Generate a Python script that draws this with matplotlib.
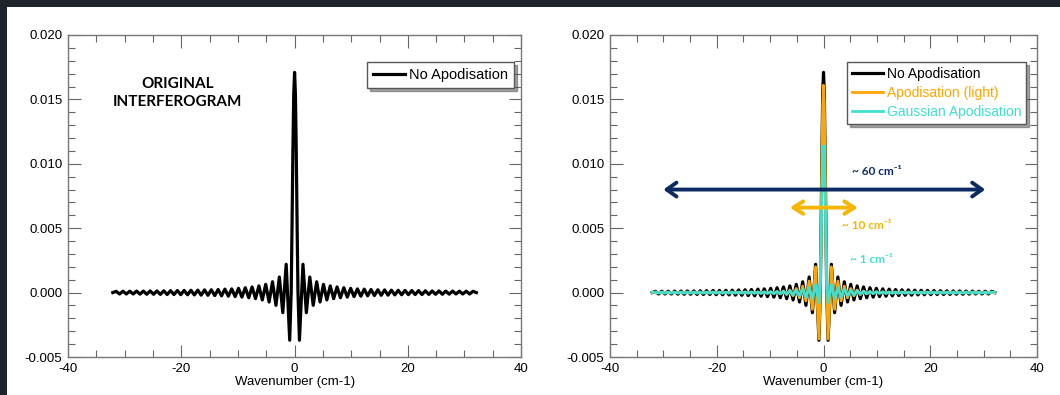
import numpy as np
import matplotlib.pyplot as plt
from matplotlib.patches import Rectangle
from matplotlib.ticker import MultipleLocator, FormatStrFormatter

plt.rcParams['font.family'] = ['Liberation Sans', 'DejaVu Sans']
plt.rcParams['axes.unicode_minus'] = False

# extrema of the interferogram, positive side only (curve is symmetric about 0)
x_core = [0.0, 0.15, 0.3, 0.45, 0.6, 0.86, 1.48, 2.08, 2.69, 3.29]
x_tail = np.round(np.arange(3.9, 31.55, 0.6), 2)
x_end = 32.1

no_apod_core = [0.0171, 0.0154, 0.0109, 0.0051, 0.0, -0.0037, 0.0022, -0.00156, 0.00121, -0.00099]
no_apod_tail = [0.00084, -0.00073, 0.00064, -0.00057, 0.00052, -0.00047, 0.00044, -0.00040,
                0.00038, -0.00035, 0.00033, -0.00031, 0.00029, -0.00028, 0.00027, -0.00025,
                0.00024, -0.00023, 0.00022, -0.00021, 0.00021, -0.00020, 0.00019, -0.00018,
                0.00018, -0.00017, 0.00017, -0.00016, 0.00016, -0.00015, 0.00015, -0.00015,
                0.00014, -0.00014, 0.00013, -0.00013, 0.00013, -0.00013, 0.00012, -0.00012,
                0.00012, -0.00011, 0.00011, -0.00011, 0.00011, -0.00011, 0.00010]

light_core = [0.0161, 0.0146, 0.0104, 0.0049, 0.0, -0.0036, 0.0020, -0.0013, 0.00090, -0.00065]
light_tail = [0.00050, -0.00040, 0.00032, -0.00025, 0.00020, -0.00015, 0.00012, -0.00009,
              0.00007, -0.00005, 0.00004, -0.00003, 0.00002, -0.00002, 0.00001, 0.0,
              0.0, 0.0, 0.0, 0.0, 0.0, 0.0, 0.0, 0.0,
              0.0, 0.0, 0.0, 0.0, 0.0, 0.0, 0.0, 0.0,
              0.0, 0.0, 0.0, 0.0, 0.0, 0.0, 0.0, 0.0,
              0.0, 0.0, 0.0, 0.0, 0.0, 0.0, 0.0]

gauss_core = [0.0114, 0.0104, 0.0078, 0.0043, 0.0010, -0.0008, 0.0006, -0.0005, 0.0004, -0.00035]
gauss_tail = [0.00030, -0.00025, 0.00020, -0.00018, 0.00015, -0.00013, 0.00011, -0.00010,
              0.00009, -0.00008, 0.00008, -0.00007, 0.00007, -0.00007, 0.00006, -0.00006,
              0.00006, -0.00006, 0.00006, -0.00005, 0.00005, -0.00005, 0.00005, -0.00005,
              0.00005, -0.00005, 0.00005, -0.00005, 0.00005, -0.00005, 0.00005, -0.00005,
              0.00005, -0.00005, 0.00005, -0.00005, 0.00005, -0.00005, 0.00005, -0.00005,
              0.00005, -0.00005, 0.00005, -0.00005, 0.00005, -0.00005, 0.00005]

labels = ['No Apodisation', 'Apodisation (light)', 'Gaussian Apodisation']
colors = ['black', '#ffa500', '#40e0d0']
widths = ['~ 60 cm⁻¹', '~ 10 cm⁻¹', '~ 1 cm⁻¹']


def full_curve(core, tail):
    x = np.array(x_core + list(x_tail) + [x_end])
    y = np.array(core + tail + [0.0])
    return np.concatenate([-x[::-1], x[1:]]), np.concatenate([y[::-1], y[1:]])


def style(ax):
    ax.set_xlim(-40, 40)
    ax.set_ylim(-0.005, 0.020)
    ax.xaxis.set_major_locator(MultipleLocator(20))
    ax.xaxis.set_minor_locator(MultipleLocator(5))
    ax.yaxis.set_major_locator(MultipleLocator(0.005))
    ax.yaxis.set_minor_locator(MultipleLocator(0.001))
    ax.yaxis.set_major_formatter(FormatStrFormatter('%.3f'))
    ax.tick_params(which='both', direction='in', top=True, right=True,
                   color='#666666', width=0.8, labelsize=9.5, pad=4)
    ax.tick_params(which='major', length=9)
    ax.tick_params(which='minor', length=5)
    for s in ax.spines.values():
        s.set_color('#777777')
        s.set_linewidth(1.0)
    ax.set_xlabel('Wavenumber (cm-1)', fontsize=9.5, labelpad=1)


def style_legend(leg):
    leg.get_frame().set_edgecolor('#555555')
    leg.get_frame().set_linewidth(1.0)


fig = plt.figure(figsize=(10.6, 3.95), dpi=100, facecolor='#1f232b')
fig.add_artist(Rectangle((7 / 1060, 0), 1, 1 - 7 / 395, transform=fig.transFigure,
                         facecolor='white', edgecolor='none', zorder=-1))

ax1 = fig.add_axes([0.0642, 0.0962, 0.4274, 0.8152])
ax2 = fig.add_axes([0.5755, 0.0962, 0.4028, 0.8152])

# left panel
x, y = full_curve(no_apod_core, no_apod_tail)
ax1.plot(x, y, color='black', lw=2.3, label=labels[0])
style(ax1)
ax1.text(-20.6, 0.0155, 'ORIGINAL\nINTERFEROGRAM', ha='center', va='center',
         fontsize=11, fontweight='bold', family=['Lato', 'DejaVu Sans'], linespacing=1.3)
leg = ax1.legend(loc='upper right', bbox_to_anchor=(0.985, 0.915), fontsize=10.5,
                 frameon=True, fancybox=False, shadow=True, handlelength=2.2,
                 borderpad=0.4, handletextpad=0.3, borderaxespad=0)
style_legend(leg)

# right panel
for core, tail, lab, c, lw in zip([no_apod_core, light_core, gauss_core],
                                  [no_apod_tail, light_tail, gauss_tail],
                                  labels, colors, [2.3, 2.0, 2.0]):
    x, y = full_curve(core, tail)
    ax2.plot(x, y, color=c, lw=lw, label=lab)
style(ax2)
leg = ax2.legend(loc='upper right', bbox_to_anchor=(0.975, 0.915), fontsize=10,
                 frameon=True, fancybox=False, shadow=True, handlelength=2.2,
                 borderpad=0.35, handletextpad=0.3, borderaxespad=0, labelspacing=0.35)
style_legend(leg)
for t, c in zip(leg.get_texts(), colors):
    t.set_color(c)

navy = '#0c2a62'
gold = '#f7b500'
ax2.annotate('', xy=(-30.0, 0.0080), xytext=(30.3, 0.0080),
             arrowprops=dict(arrowstyle='<->,head_length=0.7,head_width=0.5',
                             lw=2.8, color=navy, shrinkA=0, shrinkB=0))
ax2.annotate('', xy=(-6.3, 0.0066), xytext=(6.4, 0.0066),
             arrowprops=dict(arrowstyle='<->,head_length=0.7,head_width=0.45',
                             lw=2.8, color=gold, shrinkA=0, shrinkB=0))
for (tx, ty), txt, c in zip([(5.4, 0.0094), (3.4, 0.0052), (5.0, 0.0026)],
                            widths, [navy, gold, '#40e0d0']):
    ax2.text(tx, ty, txt, color=c, fontsize=8.5, fontweight='bold', va='center',
             family=['Lato', 'DejaVu Sans'])

fig.savefig('out.png', dpi=100, facecolor=fig.get_facecolor())
